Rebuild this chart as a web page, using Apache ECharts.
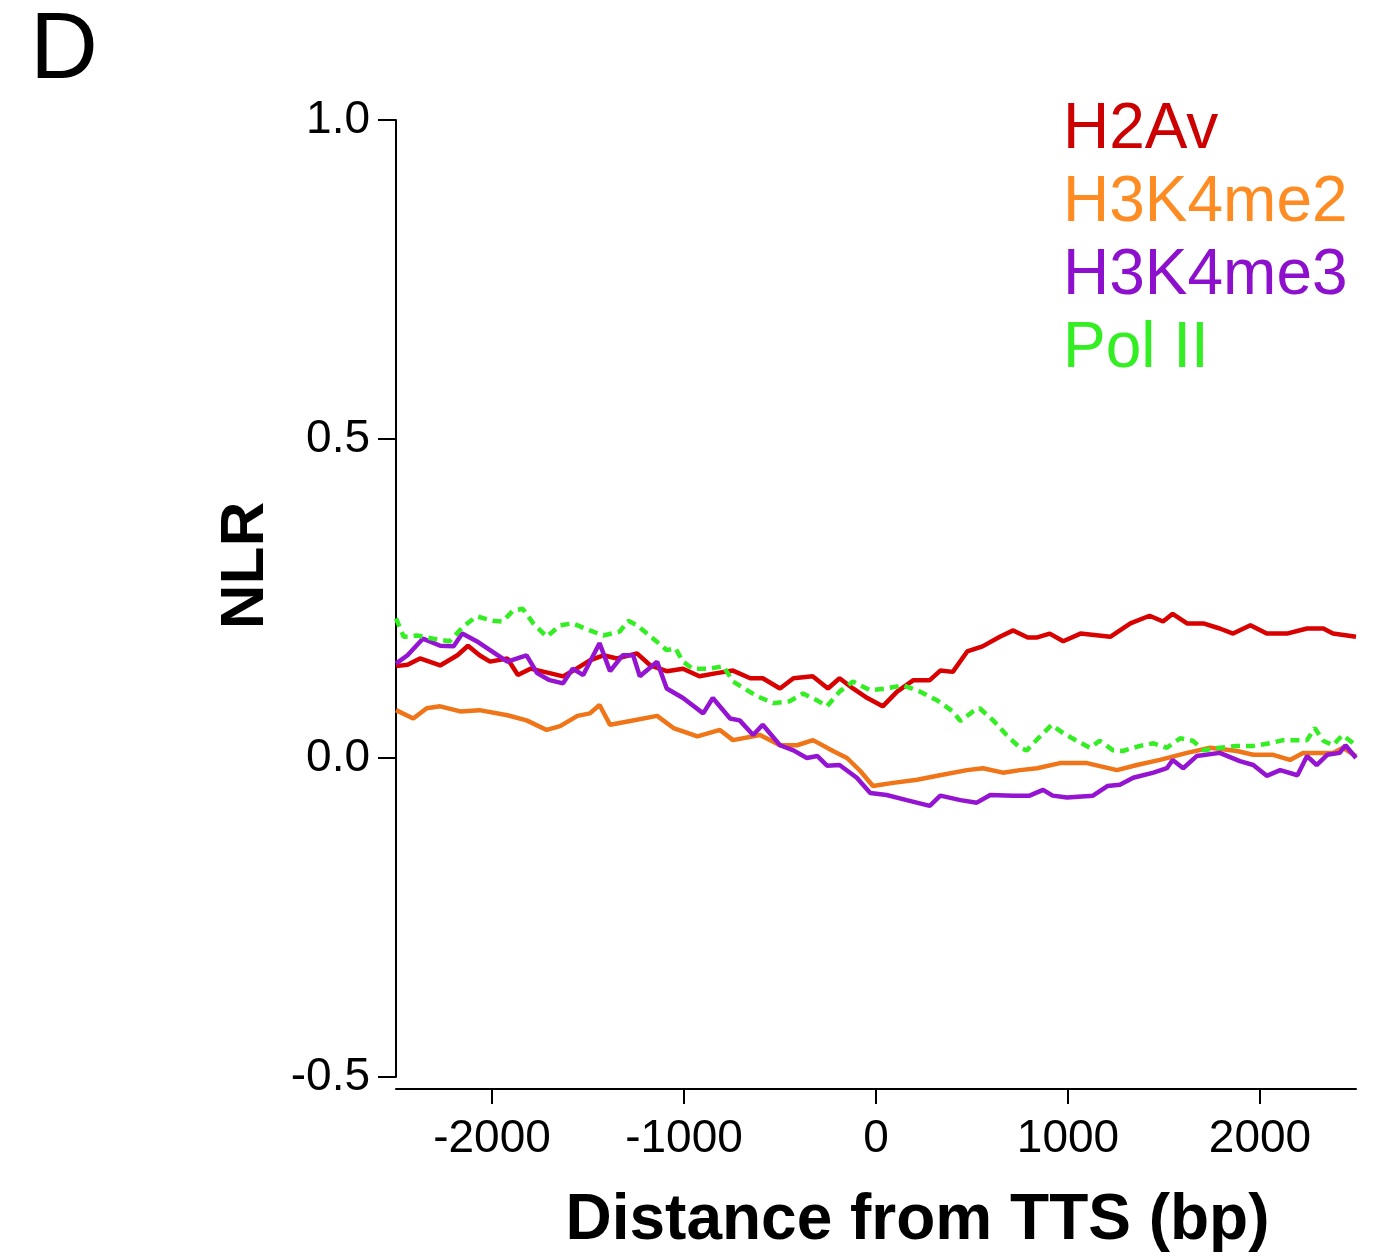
<!DOCTYPE html>
<html>
<head>
<meta charset="utf-8">
<script src="https://cdn.jsdelivr.net/npm/echarts@6/dist/echarts.min.js"></script>
<style>
html,body{margin:0;padding:0;background:#fff;overflow:hidden;width:1376px;height:1258px;}
#chart{width:1376px;height:1258px;position:absolute;left:0;top:0;}
</style>
</head>
<body>
<div id="chart"></div>
<script>
// ---- data (x = distance from TTS in bp, y = NLR) ----
const seriesNames = ['H2Av', 'H3K4me2', 'H3K4me3', 'Pol II'];
const xTickValues = [-2000, -1000, 0, 1000, 2000];
const yTickValues = [-0.5, 0.0, 0.5, 1.0];

const h2av = [[-2500,0.144],[-2440,0.146],[-2375,0.156],[-2270,0.145],[-2180,0.161],[-2125,0.176],[-2065,0.161],[-2010,0.151],[-1920,0.156],[-1865,0.130],[-1800,0.140],[-1700,0.133],[-1630,0.128],[-1560,0.140],[-1490,0.153],[-1420,0.161],[-1350,0.156],[-1245,0.164],[-1175,0.145],[-1090,0.136],[-1005,0.140],[-920,0.128],[-830,0.133],[-745,0.137],[-655,0.125],[-590,0.125],[-500,0.109],[-430,0.125],[-330,0.128],[-250,0.109],[-190,0.125],[-120,0.109],[-45,0.094],[35,0.081],[110,0.104],[195,0.122],[280,0.122],[335,0.137],[400,0.135],[475,0.167],[555,0.175],[645,0.190],[715,0.200],[790,0.189],[840,0.189],[905,0.195],[975,0.183],[1065,0.195],[1220,0.190],[1325,0.211],[1425,0.223],[1495,0.214],[1545,0.226],[1620,0.211],[1705,0.211],[1790,0.203],[1860,0.195],[1950,0.208],[2035,0.195],[2140,0.195],[2245,0.203],[2330,0.203],[2380,0.195],[2500,0.190]];

const h3k4me2 = [[-2500,0.075],[-2410,0.062],[-2340,0.078],[-2270,0.081],[-2165,0.073],[-2065,0.075],[-1920,0.067],[-1820,0.059],[-1715,0.044],[-1645,0.050],[-1555,0.066],[-1490,0.070],[-1440,0.083],[-1385,0.052],[-1280,0.058],[-1140,0.066],[-1055,0.047],[-930,0.034],[-813,0.044],[-745,0.028],[-604,0.036],[-500,0.020],[-411,0.020],[-328,0.028],[-224,0.011],[-151,0.000],[-83,-0.020],[-16,-0.044],[89,-0.039],[214,-0.034],[333,-0.027],[474,-0.019],[557,-0.016],[661,-0.023],[750,-0.019],[839,-0.016],[958,-0.008],[1099,-0.008],[1255,-0.019],[1359,-0.011],[1479,-0.003],[1620,0.008],[1740,0.016],[1880,0.011],[1964,0.005],[2068,0.005],[2156,-0.003],[2224,0.008],[2380,0.008],[2432,0.016],[2500,0.003]];

const h3k4me3 = [[-2500,0.148],[-2440,0.161],[-2360,0.187],[-2270,0.176],[-2200,0.175],[-2155,0.195],[-2080,0.183],[-2010,0.169],[-1920,0.151],[-1820,0.161],[-1765,0.133],[-1700,0.122],[-1630,0.117],[-1580,0.140],[-1525,0.130],[-1440,0.180],[-1385,0.136],[-1320,0.161],[-1265,0.161],[-1230,0.128],[-1140,0.151],[-1090,0.109],[-1005,0.094],[-900,0.070],[-850,0.094],[-760,0.062],[-710,0.059],[-640,0.036],[-590,0.052],[-500,0.020],[-430,0.012],[-360,0.000],[-305,0.003],[-255,-0.012],[-190,-0.011],[-100,-0.031],[-30,-0.055],[55,-0.058],[160,-0.066],[280,-0.075],[335,-0.059],[440,-0.066],[525,-0.070],[595,-0.058],[715,-0.059],[800,-0.059],[870,-0.050],[920,-0.059],[995,-0.062],[1130,-0.059],[1205,-0.044],[1270,-0.042],[1340,-0.031],[1445,-0.023],[1515,-0.016],[1545,-0.003],[1600,-0.016],[1670,0.003],[1790,0.008],[1895,-0.005],[1965,-0.011],[2035,-0.028],[2105,-0.019],[2195,-0.027],[2245,0.003],[2295,-0.011],[2350,0.005],[2415,0.008],[2445,0.020],[2500,0.000]];

const polII = [[-2500,0.219],[-2460,0.190],[-2390,0.192],[-2305,0.187],[-2220,0.183],[-2150,0.206],[-2080,0.222],[-1995,0.215],[-1945,0.214],[-1890,0.231],[-1840,0.234],[-1785,0.211],[-1715,0.190],[-1645,0.208],[-1580,0.211],[-1490,0.200],[-1420,0.192],[-1335,0.198],[-1290,0.215],[-1245,0.208],[-1160,0.187],[-1090,0.169],[-1045,0.172],[-1005,0.151],[-955,0.140],[-865,0.140],[-795,0.144],[-745,0.120],[-670,0.106],[-620,0.097],[-535,0.086],[-450,0.089],[-380,0.101],[-305,0.090],[-255,0.081],[-190,0.104],[-120,0.120],[-30,0.106],[55,0.109],[140,0.114],[230,0.104],[320,0.090],[400,0.073],[440,0.058],[505,0.073],[540,0.078],[610,0.059],[680,0.036],[750,0.016],[785,0.012],[855,0.034],[915,0.052],[975,0.039],[1045,0.027],[1115,0.016],[1165,0.027],[1235,0.012],[1285,0.011],[1375,0.019],[1445,0.023],[1515,0.016],[1585,0.031],[1650,0.027],[1705,0.012],[1790,0.016],[1880,0.019],[1965,0.019],[2050,0.023],[2120,0.028],[2195,0.028],[2245,0.028],[2285,0.047],[2330,0.027],[2380,0.020],[2430,0.036],[2500,0.020]];

const lineColors = ['#d90000', '#f07418', '#9414d2', '#33ee22'];
const legendColors = ['#cc0000', '#ff8c22', '#8c10cc', '#33ee22'];

const FONT = '"Liberation Sans", Arial, Helvetica, sans-serif';
const chart = echarts.init(document.getElementById('chart'), null, {renderer: 'canvas', width: 1376, height: 1258});

const dataSets = [h2av, h3k4me2, h3k4me3, polII];

chart.setOption({
  backgroundColor: '#fff',
  animation: false,
  title: {
    text: 'D', left: 25, top: 0,
    textStyle: {fontFamily: FONT, fontSize: 94, fontWeight: 'normal', color: '#000'}
  },
  legend: {
    orient: 'vertical', left: 1053, top: 89,
    icon: 'none', itemWidth: 0, itemHeight: 10, itemGap: 0,
    selectedMode: false,
    data: seriesNames.map((n, i) => ({name: n, textStyle: {color: legendColors[i]}})),
    textStyle: {fontFamily: FONT, fontSize: 64, lineHeight: 73, padding: 0}
  },
  grid: {left: 396, right: 20, top: 120, bottom: 177, containLabel: false},
  xAxis: {
    type: 'value', min: -2500, max: 2500, offset: 12,
    name: 'Distance from TTS (bp)', nameLocation: 'middle', nameGap: 100,
    nameTextStyle: {fontFamily: FONT, fontSize: 64, fontWeight: 'bold', color: '#000', padding: [0, 0, 0, 83]},
    axisLine: {show: true, onZero: false, lineStyle: {color: '#000', width: 2}},
    axisTick: {show: true, length: 15, lineStyle: {color: '#000', width: 2}, customValues: xTickValues},
    axisLabel: {customValues: xTickValues, fontFamily: FONT, fontSize: 46, color: '#000', margin: 27,
      formatter: v => String(v)},
    splitLine: {show: false}
  },
  yAxis: {
    type: 'value', min: -0.5, max: 1.0, interval: 0.5,
    name: 'NLR', nameLocation: 'middle', nameGap: 119, nameRotate: 90,
    nameTextStyle: {fontFamily: FONT, fontSize: 62, fontWeight: 'bold', color: '#000', padding: [0, 0, 0, 66]},
    axisLine: {show: true, onZero: false, lineStyle: {color: '#000', width: 2}},
    axisTick: {show: true, length: 18, lineStyle: {color: '#000', width: 2}, customValues: yTickValues},
    axisLabel: {customValues: yTickValues, fontFamily: FONT, fontSize: 46, color: '#000', margin: 26,
      formatter: v => v.toFixed(1)},
    splitLine: {show: false}
  },
  series: seriesNames.map((n, i) => ({
    name: n, type: 'line', data: dataSets[i], showSymbol: false, symbol: 'none',
    color: lineColors[i],
    lineStyle: {width: 4.5, color: lineColors[i], type: i === 3 ? [9, 6] : 'solid'},
    z: 2 + i
  }))
});
</script>
</body>
</html>
